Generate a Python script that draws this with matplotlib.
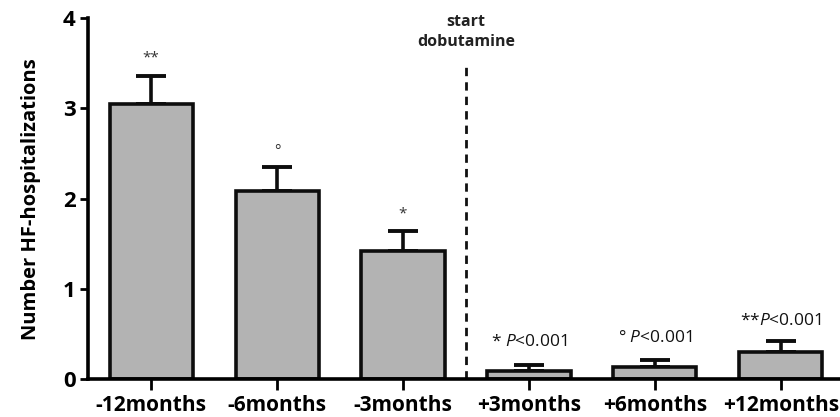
import matplotlib.pyplot as plt
import numpy as np

plt.rcParams['font.family'] = ['Open Sans', 'DejaVu Sans']
plt.rcParams['mathtext.fontset'] = 'custom'
plt.rcParams['mathtext.rm'] = 'Open Sans'
plt.rcParams['mathtext.it'] = 'Open Sans:italic'

# data
labels = ['-12months', '-6months', '-3months', '+3months', '+6months', '+12months']
means = [3.05, 2.09, 1.42, 0.09, 0.135, 0.30]
sem = [0.31, 0.26, 0.22, 0.065, 0.075, 0.13]
marks = ['**', '°', '*', '* $\\it{P}$<0.001', '° $\\it{P}$<0.001', '**$\\it{P}$<0.001']
mark_y = [3.56, 2.52, 1.83, 0.42, 0.46, 0.65]

fig, ax = plt.subplots(figsize=(8.4, 4.17), dpi=100)
fig.subplots_adjust(left=0.105, right=1.0, top=0.957, bottom=0.09)

x = np.arange(len(labels))
ax.bar(x, means, width=0.66, color='#b3b3b3', edgecolor='#0d0d0d', linewidth=2.6, zorder=2)
ax.errorbar(x, means, yerr=[np.zeros(len(sem)), sem], fmt='none', ecolor='#0d0d0d',
            elinewidth=2.6, capsize=11, capthick=2.8, zorder=1)

for i, (m, yy) in enumerate(zip(marks, mark_y)):
    if i < 3:
        ax.text(i, yy, m, ha='center', va='center', fontsize=11, color='#333333')
    else:
        ax.text(i, yy, m, ha='center', va='center', fontsize=12.5, color='#111111')

# start of dobutamine
ax.plot([2.5, 2.5], [0, 3.48], ls=(0, (3, 2.2)), color='#111111', lw=2.0, zorder=1)
ax.text(2.5, 3.84, 'start\ndobutamine', ha='center', va='center', fontsize=11.5,
        fontweight='bold', linespacing=1.35, color='#222222')

ax.set_xlim(-0.5, 5.47)
ax.set_ylim(0, 4)
ax.set_yticks([0, 1, 2, 3, 4])
ax.set_xticks(x)
ax.set_xticklabels(labels, fontsize=15, fontweight='bold')
ax.tick_params(axis='y', labelsize=16, width=2, length=6, pad=3)
for t in ax.get_yticklabels():
    t.set_fontweight('bold')
ax.tick_params(axis='x', width=2, length=8, pad=3)
ax.set_ylabel('Number HF-hospitalizations', fontsize=14.5, fontweight='bold', labelpad=16)

ax.spines['top'].set_visible(False)
ax.spines['right'].set_visible(False)
ax.spines['left'].set_linewidth(2.6)
ax.spines['bottom'].set_linewidth(2.6)

plt.savefig('out.png', dpi=100)
